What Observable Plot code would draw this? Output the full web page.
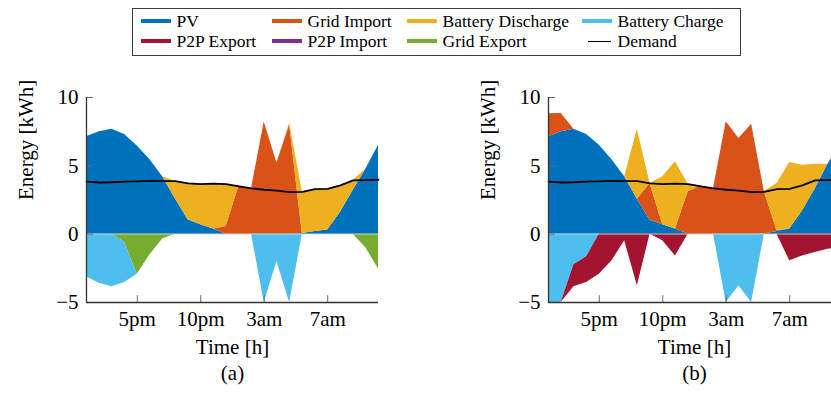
<!DOCTYPE html>
<html><head><meta charset="utf-8">
<script src="https://cdn.jsdelivr.net/npm/d3@7"></script>
<script src="https://cdn.jsdelivr.net/npm/@observablehq/plot@0.6"></script>
<style>
html,body{margin:0;padding:0;background:#fff;overflow:hidden;}
#wrap{position:relative;width:831px;height:395px;overflow:hidden;font-family:"Liberation Serif","Times New Roman","DejaVu Serif",serif;color:#000;}
#wrap svg{position:absolute;top:0;}
.legend{position:absolute;left:132px;top:8px;width:609px;height:48px;border:1.3px solid #3a3a3a;box-sizing:border-box;background:#fff;z-index:2;display:grid;grid-template-columns:131px 135px 175px 150px;grid-auto-rows:20px;padding:2.4px 0 0 7.5px;font-size:17.5px;}
.item{display:flex;align-items:center;white-space:nowrap;}
.sw{width:30px;height:4px;margin-right:6px;flex:none;}
.sw.line{width:23px;height:1.7px;margin-left:6px;margin-right:7px;}
</style></head><body><div id="wrap"></div>
<script>
// ---- data ----
const hours = [0,1,2,3,4,5,6,7,8,9,10,11,12,13,14,15,16,17,18,19,20,21,22,23];
const xTicks = [4, 9, 14, 19];
const xTickLabels = ["5pm", "10pm", "3am", "7am"];
const yTicks = [-5, 0, 5, 10];

const seriesNames = ["PV", "Grid Import", "Battery Discharge", "Battery Charge", "P2P Export", "P2P Import", "Grid Export"];
const seriesColors = ["#0072BD", "#D95319", "#EDB120", "#4DBEEE", "#A2142F", "#7E2F8E", "#77AC30"];
const legendOrder = ["PV", "Grid Import", "Battery Discharge", "Battery Charge", "P2P Export", "P2P Import", "Grid Export", "Demand"];

const demand = [3.84, 3.78, 3.8, 3.85, 3.87, 3.9, 3.88, 3.88, 3.72, 3.66, 3.7, 3.66, 3.5, 3.35, 3.25, 3.18, 3.08, 3.1, 3.3, 3.32, 3.57, 3.93, 3.96, 3.98];

// panel (a)
const pvA          = [7.12, 7.5, 7.68, 7.3, 6.45, 5.45, 4.2, 2.6, 1.05, 0.68, 0.37, 0, 0, 0, 0, 0, 0, 0.05, 0.2, 0.3, 1.6, 3.2, 4.75, 6.5];
const gridImportA  = [0, 0, 0, 0, 0, 0, 0, 0, 0, 0, 0, 0.56, 3.5, 3.35, 8.2, 5.2, 8.0, 0, 0, 0, 0, 0, 0, 0];
const dischargeA   = [0, 0, 0, 0, 0, 0, 0, 1.28, 2.67, 2.98, 3.33, 3.1, 0, 0, 0, 0, 0.12, 3.05, 3.1, 3.02, 1.97, 0.73, 0, 0];
const gridExportA  = [0, 0, 0, -0.6, -2.93, -1.5, -0.35, 0, 0, 0, 0, 0, 0, 0, 0, 0, 0, 0, 0, 0, 0, 0, -1.0, -2.55];
const chargeA      = [-3.12, -3.6, -3.85, -2.94, 0, 0, 0, 0, 0, 0, 0, 0, 0, 0, -5, -2.0, -5, 0, 0, 0, 0, 0, 0, 0];

// panel (b)
const pvB          = [7.12, 7.5, 7.68, 7.3, 6.5, 5.45, 4.2, 2.56, 1.02, 0.68, 0.37, 0, 0, 0, 0, 0, 0, 0.02, 0.2, 0.37, 1.7, 3.3, 5.1, 6.6];
const gridImportB  = [1.7, 1.33, 0, 0, 0, 0, 0, 0, 2.68, 0, 0, 3.1, 3.5, 3.35, 8.22, 7.0, 8.05, 3.1, 0.05, 0, 0, 0, 0, 0];
const dischargeB   = [0, 0, 0, 0, 0, 0, 0, 5.12, 0, 3.52, 4.93, 0.55, 0, 0, 0, 0, 0, 0, 3.45, 4.87, 3.35, 1.82, 0, 0];
const chargeB      = [-5, -5, -2.24, -1.66, 0, 0, 0, 0, 0, 0, 0, 0, 0, 0, -5, -3.78, -5, 0, 0, 0, 0, 0, 0, 0];
const p2pExportB   = [0, 0, -1.61, -1.88, -2.93, -1.95, -0.49, -3.78, 0, -0.49, -1.59, 0, 0, 0, 0, 0, 0, 0, 0, -1.95, -1.59, -1.34, -1.1, -1.0];

const yLabel = "Energy [kWh]";
const xLabel = "Time [h]";

// ---- stacking (sequential, like pgfplots) ----
function stackRows(names, arrays) {
  const rows = [];
  const base = hours.map(() => 0);
  names.forEach((name, k) => {
    arrays[k].forEach((v, i) => {
      rows.push({series: name, t: hours[i], y1: base[i], y2: base[i] + v});
      base[i] += v;
    });
  });
  return rows;
}

const demandRows = hours.map((t, i) => ({t, v: demand[i]}));
const last = a => a[a.length - 1];
const FONT = "'Liberation Serif', 'Times New Roman', 'DejaVu Serif', serif";

function panel(caption, pos, neg) {
  return Plot.plot({
    width: 400, height: 395,
    marginLeft: 86, marginRight: 22, marginTop: 97, marginBottom: 93,
    style: {background: "transparent", fontFamily: FONT, fontSize: "21px", color: "#000"},
    x: {domain: [hours[0], last(hours)]},
    y: {domain: [yTicks[0], last(yTicks)]},
    color: {domain: seriesNames, range: seriesColors},
    marks: [
      Plot.areaY(pos, {x: "t", y1: "y1", y2: "y2", fill: "series", z: "series"}),
      Plot.areaY(neg, {x: "t", y1: "y1", y2: "y2", fill: "series", z: "series"}),
      Plot.ruleY([0], {stroke: "#d8d8d8", strokeWidth: 0.7}),
      Plot.line(demandRows, {x: "t", y: "v", stroke: "#000", strokeWidth: 1.8}),
      Plot.ruleY(yTicks, {x1: hours[0], x2: hours[0] + 0.55, stroke: "#6a6a6a", strokeWidth: 1}),
      Plot.ruleX(xTicks, {y1: yTicks[0], y2: yTicks[0] + 0.5, stroke: "#6a6a6a", strokeWidth: 1}),
      Plot.ruleX([hours[0]], {y1: yTicks[0], y2: last(yTicks), stroke: "#333", strokeWidth: 1.3}),
      Plot.ruleY([yTicks[0]], {x1: hours[0], x2: last(hours), stroke: "#333", strokeWidth: 1.3}),
      Plot.axisY({ticks: yTicks, tickSize: 0, tickPadding: 8, fontSize: 21, fontFamily: FONT, label: null}),
      Plot.axisX({ticks: xTicks, tickFormat: d => xTickLabels[xTicks.indexOf(d)], tickSize: 0, tickPadding: 9, fontSize: 21, fontFamily: FONT, label: null}),
      Plot.text([yLabel], {frameAnchor: "left", dx: -60, rotate: -90, fontSize: 21, fontFamily: FONT}),
      Plot.text([xLabel], {frameAnchor: "bottom", dy: 51, fontSize: 21, fontFamily: FONT}),
      Plot.text([caption], {frameAnchor: "bottom", dy: 77, fontSize: 21, fontFamily: FONT})
    ]
  });
}

const wrap = document.getElementById("wrap");

const svgA = panel("(a)",
  stackRows(["PV", "Grid Import", "Battery Discharge"], [pvA, gridImportA, dischargeA]),
  stackRows(["Grid Export", "Battery Charge"], [gridExportA, chargeA]));
svgA.style.left = "0px";
wrap.appendChild(svgA);

const svgB = panel("(b)",
  stackRows(["PV", "Grid Import", "Battery Discharge"], [pvB, gridImportB, dischargeB]),
  stackRows(["Battery Charge", "P2P Export"], [chargeB, p2pExportB]));
svgB.style.left = "461.5px";
wrap.appendChild(svgB);

// legend
const leg = document.createElement("div");
leg.className = "legend";
legendOrder.forEach(name => {
  const item = document.createElement("div");
  item.className = "item";
  const sw = document.createElement("span");
  const k = seriesNames.indexOf(name);
  if (k >= 0) { sw.className = "sw"; sw.style.background = seriesColors[k]; }
  else { sw.className = "sw line"; sw.style.background = "#000"; }
  item.appendChild(sw);
  item.appendChild(document.createTextNode(name));
  leg.appendChild(item);
});
wrap.appendChild(leg);
</script></body></html>
